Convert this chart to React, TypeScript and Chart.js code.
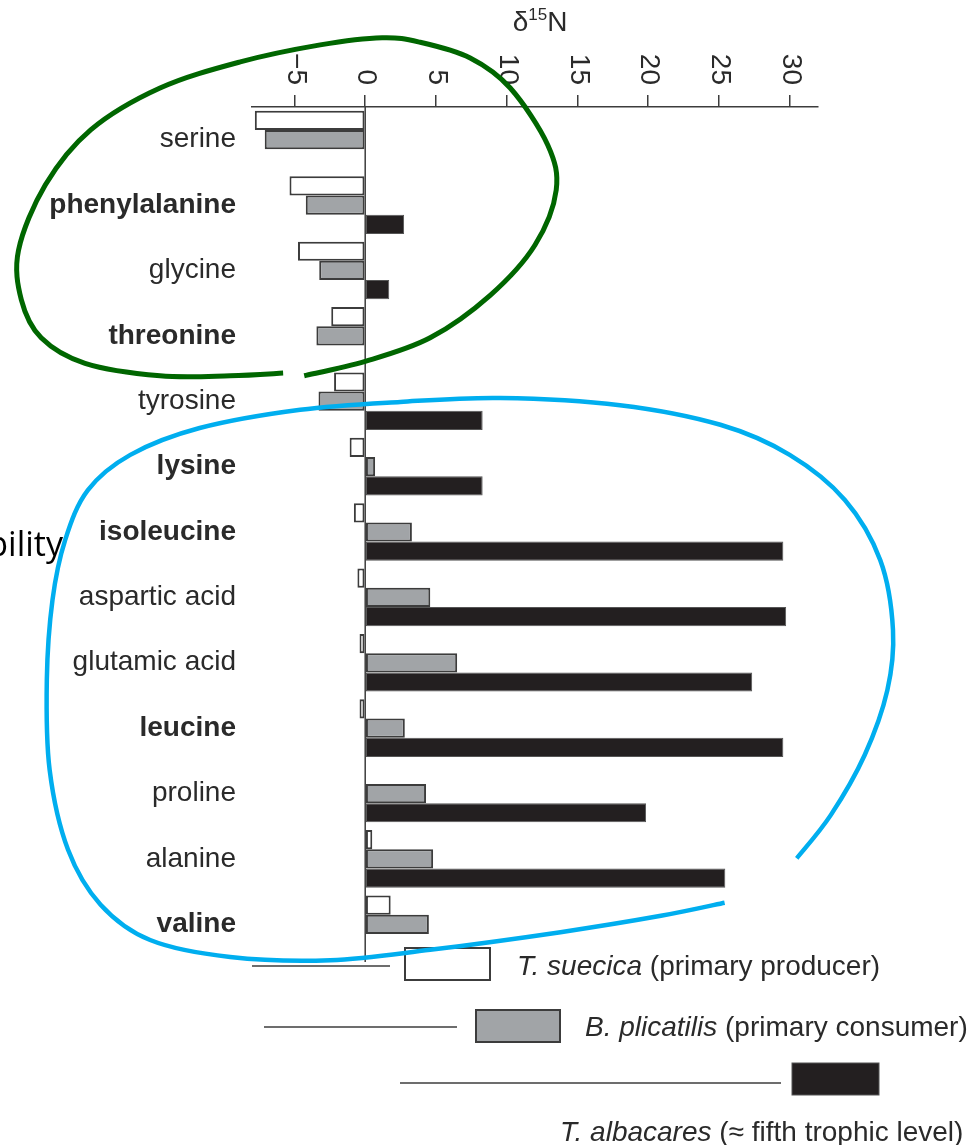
import React, { useEffect, useRef } from "react";
import { Chart, registerables } from "chart.js";

Chart.register(...registerables);

// ---------- data ----------
const categories = [
  "serine",
  "phenylalanine",
  "glycine",
  "threonine",
  "tyrosine",
  "lysine",
  "isoleucine",
  "aspartic acid",
  "glutamic acid",
  "leucine",
  "proline",
  "alanine",
  "valine",
];
const boldCategories = ["phenylalanine", "threonine", "lysine", "isoleucine", "leucine", "valine"];

const tSuecica = [-7.8, -5.35, -4.75, -2.4, -2.2, -1.1, -0.8, -0.55, -0.4, -0.4, 0.05, 0.5, 1.8];
const bPlicatilis = [-7.1, -4.2, -3.25, -3.45, -3.3, 0.7, 3.3, 4.6, 6.5, 2.8, 4.3, 4.8, 4.5];
const tAlbacares = [null, 2.75, 1.7, null, 8.3, 8.3, 29.55, 29.75, 27.35, 29.55, 19.85, 25.45, null];

const seriesNames = ["T. suecica", "B. plicatilis", "T. albacares"];
const seriesRoles = ["(primary producer)", "(primary consumer)", "(\u2248 fifth trophic level)"];

const xTicks = [-5, 0, 5, 10, 15, 20, 25, 30];
const xTickLabels = ["\u22125", "0", "5", "10", "15", "20", "25", "30"];

// hand-drawn annotation loops, in data units: [delta15N, category index]
const greenLoop = [
  [-4.31, 3.61], [0, 3.39], [4.59, 3.03], [8.83, 2.38], [12.0, 1.61], [13.5, 0.77],
  [12.9, 0.08], [10.25, -0.79], [7.42, -1.25], [3.89, -1.49], [1.2, -1.56], [-3.18, -1.45],
  [-8.83, -1.19], [-14.5, -0.79], [-19.4, -0.15], [-22.6, 0.69], [-24.5, 1.69], [-24.3, 2.45],
  [-22.9, 3.03], [-19.8, 3.42], [-14.5, 3.61], [-9.54, 3.61], [-5.8, 3.57],
];
const blueLoop = [
  [30.5, 10.99], [32.9, 10.33], [35.3, 9.41], [36.9, 8.42], [37.3, 7.5], [36.4, 6.43],
  [33.9, 5.51], [30.0, 4.82], [25.1, 4.36], [18.0, 4.06], [9.54, 3.95], [2.47, 4.01],
  [-4.59, 4.13], [-11.7, 4.41], [-16.6, 4.82], [-19.6, 5.36], [-21.2, 6.12], [-22.1, 7.04],
  [-22.5, 8.26], [-22.3, 9.64], [-21.0, 10.86], [-18.7, 11.7], [-15.2, 12.24], [-9.54, 12.5],
  [-2.47, 12.55], [4.59, 12.39], [13.8, 12.12], [20.9, 11.87], [25.4, 11.67],
];

const FONT = "'Liberation Sans', Arial, Helvetica, sans-serif";
const TEXT = "#2a2a2a";
const AXIS = "#3c3c3c";

function spline(ctx: CanvasRenderingContext2D, pts: { x: number; y: number }[]) {
  ctx.beginPath();
  ctx.moveTo(pts[0].x, pts[0].y);
  for (let i = 0; i < pts.length - 1; i++) {
    const p0 = pts[i - 1] || pts[i];
    const p1 = pts[i];
    const p2 = pts[i + 1];
    const p3 = pts[i + 2] || p2;
    ctx.bezierCurveTo(
      p1.x + (p2.x - p0.x) / 6,
      p1.y + (p2.y - p0.y) / 6,
      p2.x - (p3.x - p1.x) / 6,
      p2.y - (p3.y - p1.y) / 6,
      p2.x,
      p2.y
    );
  }
  ctx.stroke();
}

const overlayPlugin = {
  id: "overlay",
  beforeDatasetsDraw(chart: any) {
    const ctx = chart.ctx as CanvasRenderingContext2D;
    const xs = chart.scales.x;
    const x0 = xs.getPixelForValue(0);
    ctx.save();
    ctx.strokeStyle = AXIS;
    ctx.lineWidth = 1.5;
    ctx.beginPath();
    ctx.moveTo(x0, chart.chartArea.top);
    ctx.lineTo(x0, chart.chartArea.bottom + 5);
    ctx.stroke();
    ctx.restore();
  },
  afterDraw(chart: any) {
    const ctx = chart.ctx as CanvasRenderingContext2D;
    const xs = chart.scales.x;
    const ys = chart.scales.y;
    const top = chart.chartArea.top;
    ctx.save();

    // rotated tick labels (reading top to bottom)
    ctx.fillStyle = TEXT;
    ctx.font = `28px ${FONT}`;
    xTicks.forEach((v, i) => {
      const px = xs.getPixelForValue(v);
      ctx.save();
      ctx.translate(px + 1, top - 22);
      ctx.rotate(Math.PI / 2);
      ctx.textAlign = "right";
      ctx.textBaseline = "middle";
      ctx.fillText(xTickLabels[i], 0, 0);
      ctx.restore();
    });

    // axis title  δ15N
    ctx.textBaseline = "alphabetic";
    ctx.textAlign = "left";
    const t1 = "\u03b4", t2 = "15", t3 = "N";
    ctx.font = `28px ${FONT}`;
    const w1 = ctx.measureText(t1).width;
    const w3 = ctx.measureText(t3).width;
    ctx.font = `17px ${FONT}`;
    const w2 = ctx.measureText(t2).width;
    let tx = 540 - (w1 + w2 + w3) / 2;
    ctx.font = `28px ${FONT}`;
    ctx.fillText(t1, tx, 31);
    tx += w1;
    ctx.font = `17px ${FONT}`;
    ctx.fillText(t2, tx, 20);
    tx += w2;
    ctx.font = `28px ${FONT}`;
    ctx.fillText(t3, tx, 31);

    // category labels
    ctx.textAlign = "right";
    ctx.textBaseline = "middle";
    categories.forEach((c, i) => {
      const bold = boldCategories.includes(c);
      ctx.font = `${bold ? "bold " : ""}28px ${FONT}`;
      ctx.fillText(c, 236, ys.getPixelForValue(i));
    });

    // legend
    const legend = [
      { line: [252, 390], y: 966, box: [405, 948, 85, 32], fill: "#ffffff", tx: 517, ty: 967 },
      { line: [264, 457], y: 1027, box: [476, 1010, 84, 32], fill: "#a1a4a7", tx: 585, ty: 1028 },
      { line: [400, 781], y: 1083, box: [792, 1063, 87, 32], fill: "#231f20", tx: 560, ty: 1133 },
    ];
    legend.forEach((l, i) => {
      ctx.strokeStyle = AXIS;
      ctx.lineWidth = 1.5;
      ctx.beginPath();
      ctx.moveTo(l.line[0], l.y);
      ctx.lineTo(l.line[1], l.y);
      ctx.stroke();
      ctx.fillStyle = l.fill;
      ctx.fillRect(l.box[0], l.box[1], l.box[2], l.box[3]);
      ctx.strokeStyle = i === 2 ? "#555" : AXIS;
      ctx.lineWidth = i === 2 ? 1 : 2;
      ctx.strokeRect(l.box[0], l.box[1], l.box[2], l.box[3]);
      ctx.fillStyle = TEXT;
      ctx.textAlign = "left";
      ctx.textBaseline = "middle";
      ctx.font = `italic 28px ${FONT}`;
      ctx.fillText(seriesNames[i], l.tx, l.ty);
      const wn = ctx.measureText(seriesNames[i] + " ").width;
      ctx.font = `28px ${FONT}`;
      ctx.fillText(seriesRoles[i], l.tx + wn, l.ty);
    });

    // stray slide text on the left
    ctx.fillStyle = "#000";
    ctx.textAlign = "right";
    ctx.textBaseline = "alphabetic";
    ctx.font = `34px 'Open Sans', 'Noto Sans', sans-serif`;
    ctx.fillText("variability", 63, 556);

    // annotation loops
    ctx.lineCap = "butt";
    ctx.lineJoin = "round";
    const toPx = (arr: number[][]) =>
      arr.map(([v, c]) => ({ x: xs.getPixelForValue(v), y: ys.getPixelForValue(c) }));
    ctx.strokeStyle = "#006600";
    ctx.lineWidth = 5;
    spline(ctx, toPx(greenLoop));
    ctx.strokeStyle = "#00aeef";
    ctx.lineWidth = 4.5;
    spline(ctx, toPx(blueLoop));

    ctx.restore();
  },
};

export default function App() {
  const ref = useRef<HTMLCanvasElement>(null);
  useEffect(() => {
    const canvas = ref.current!;
    const chart = new Chart(canvas, {
      type: "bar",
      data: {
        labels: categories,
        datasets: [
          {
            label: seriesNames[0],
            data: tSuecica,
            backgroundColor: "#ffffff",
            borderColor: AXIS,
            borderWidth: 2,
            borderSkipped: false,
          },
          {
            label: seriesNames[1],
            data: bPlicatilis,
            backgroundColor: "#a1a4a7",
            borderColor: AXIS,
            borderWidth: 2,
            borderSkipped: false,
          },
          {
            label: seriesNames[2],
            data: tAlbacares as any,
            backgroundColor: "#231f20",
            borderColor: "#555555",
            borderWidth: 1,
            borderSkipped: false,
          },
        ],
      },
      options: {
        indexAxis: "y",
        responsive: false,
        animation: false,
        devicePixelRatio: 1,
        layout: { padding: { left: 252, right: 161, top: 95, bottom: 188 } },
        datasets: { bar: { categoryPercentage: 0.882, barPercentage: 1 } },
        plugins: {
          legend: { display: false },
          tooltip: { enabled: false },
          title: { display: false },
        },
        scales: {
          x: {
            type: "linear",
            position: "top",
            min: -8,
            max: 32,
            afterBuildTicks: (s: any) => {
              s.ticks = xTicks.map((v) => ({ value: v }));
            },
            ticks: { display: false },
            grid: {
              display: true,
              drawOnChartArea: false,
              drawTicks: true,
              tickLength: 12,
              color: AXIS,
              lineWidth: 1.5,
            },
            border: { display: true, color: AXIS, width: 1.5 },
          },
          y: {
            type: "category",
            display: false,
            offset: true,
            grid: { display: false },
          },
        },
      } as any,
      plugins: [overlayPlugin],
    });
    return () => chart.destroy();
  }, []);
  return (
    <div style={{ position: "absolute", left: 0, top: 0, width: 979, height: 1145, background: "#fff" }}>
      <canvas ref={ref} width={979} height={1145} style={{ display: "block", width: 979, height: 1145 }} />
    </div>
  );
}
